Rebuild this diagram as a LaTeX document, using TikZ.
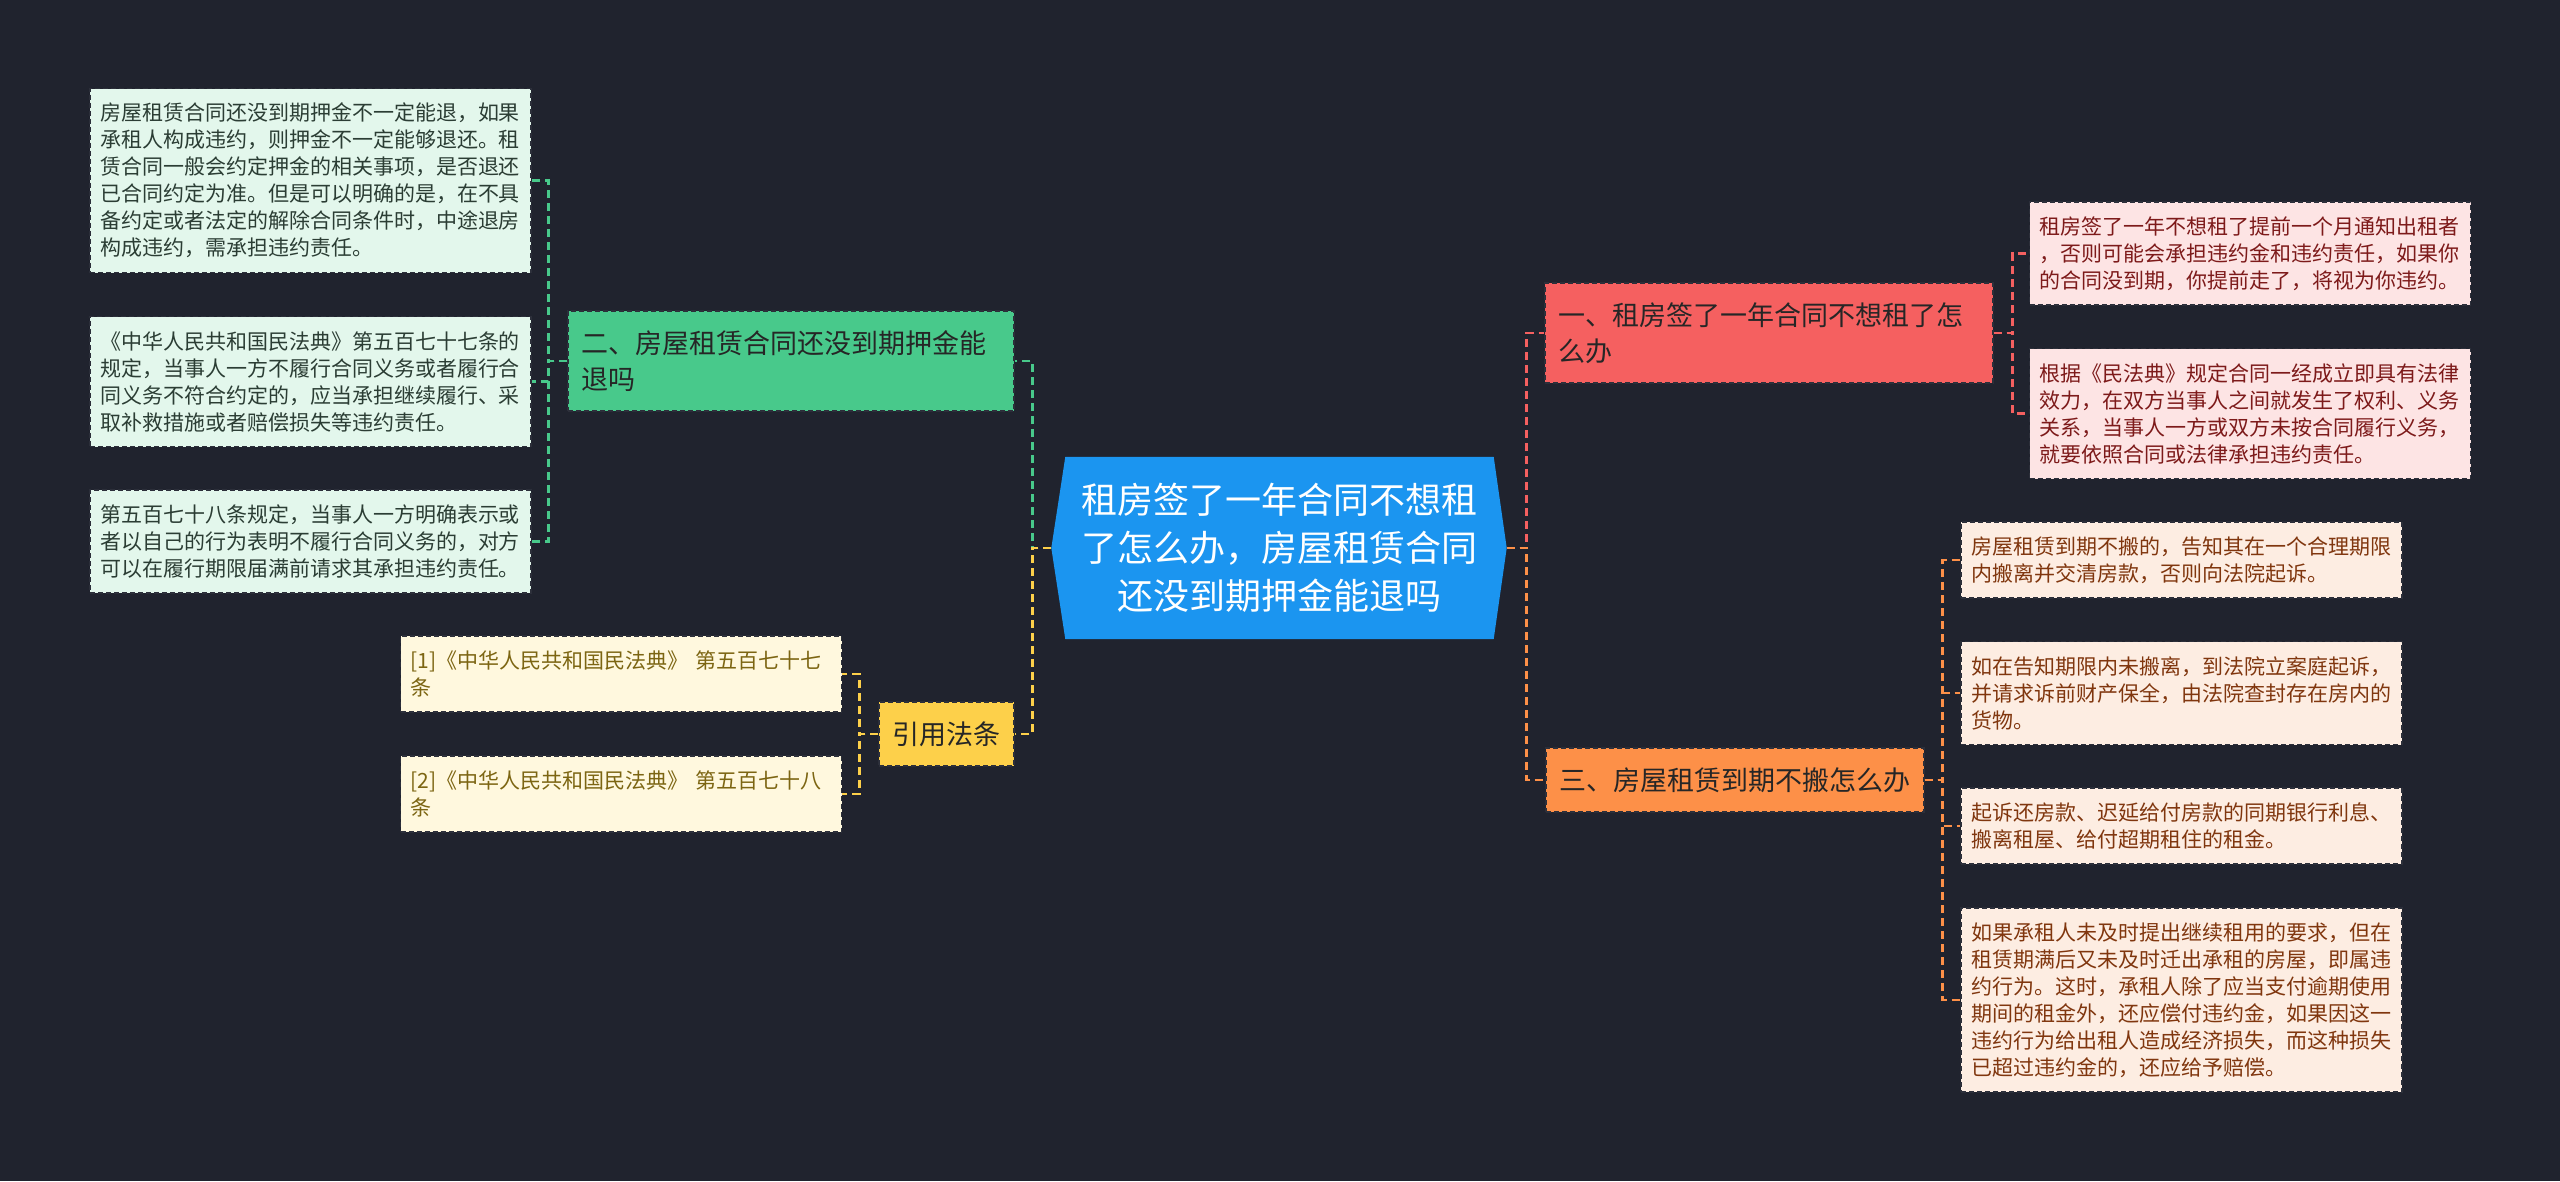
\documentclass[tikz,border=0pt]{standalone}
\usepackage{fontspec}
\setmainfont{Noto Sans CJK SC}
\usepackage{xcolor}
\usepackage{tikz}
\usetikzlibrary{backgrounds}
\definecolor{PageBg}{HTML}{20232E}
\definecolor{EdgeDark}{HTML}{2C2F3A}
\definecolor{RootBlue}{HTML}{1B95F0}
\definecolor{TopicInk}{HTML}{262626}
\definecolor{TopicGreen}{HTML}{48C98B}
\definecolor{SoftGreen}{HTML}{E3F7EC}
\definecolor{InkGreen}{HTML}{2B3D34}
\definecolor{TopicYellow}{HTML}{FDD04A}
\definecolor{SoftYellow}{HTML}{FFF8DE}
\definecolor{InkYellow}{HTML}{7C6512}
\definecolor{TopicRed}{HTML}{F56060}
\definecolor{SoftRed}{HTML}{FDE4E4}
\definecolor{InkRed}{HTML}{7D1A1A}
\definecolor{TopicOrange}{HTML}{FD9048}
\definecolor{SoftOrange}{HTML}{FDEDE2}
\definecolor{InkOrange}{HTML}{80360E}

\begin{document}
\begin{tikzpicture}[x=1pt,y=-1pt,
  leaf/.style={draw=EdgeDark,line width=1.2pt,dash pattern=on 5pt off 3pt,text width=421pt,inner xsep=10pt,inner ysep=0pt,align=left,font=\fontsize{21}{27}\selectfont},
  leafg/.style={leaf,fill=SoftGreen,text=InkGreen},
  leafy/.style={leaf,fill=SoftYellow,text=InkYellow},
  leafr/.style={leaf,fill=SoftRed,text=InkRed},
  leafo/.style={leaf,fill=SoftOrange,text=InkOrange},
  rows2/.style={minimum height=76pt},
  rows3/.style={minimum height=103pt},
  rows4/.style={minimum height=130pt},
  rows6/.style={minimum height=184pt},
  topic/.style={draw=EdgeDark,line width=1.2pt,dash pattern=on 5pt off 3pt,inner xsep=13.5pt,inner ysep=0pt,align=left,text=TopicInk,font=\fontsize{27}{36}\selectfont},
  link/.style={line width=2.6pt,dash pattern=on 8pt off 5pt}]
% root
\node[text=white,align=center,text width=428pt,inner xsep=0pt,minimum height=182pt,font=\fontsize{36}{48}\selectfont] (root) at (1279.5,548) {租房签了一年合同不想租\\了怎么办，房屋租赁合同\\还没到期押金能退吗};
% left branches
\node[topic,fill=TopicGreen,text width=419pt,minimum height=100pt] (br2) at (791,361) {二、房屋租赁合同还没到期押金能\\退吗};
\node[leafg,rows6] (a1) at (310.5,180.5) {房屋租赁合同还没到期押金不一定能退，如果\\承租人构成违约，则押金不一定能够退还。租\\赁合同一般会约定押金的相关事项，是否退还\\已合同约定为准。但是可以明确的是，在不具\\备约定或者法定的解除合同条件时，中途退房\\构成违约，需承担违约责任。};
\node[leafg,rows4] (a2) at (310.5,381.5) {《中华人民共和国民法典》第五百七十七条的\\规定，当事人一方不履行合同义务或者履行合\\同义务不符合约定的，应当承担继续履行、采\\取补救措施或者赔偿损失等违约责任。};
\node[leafg,rows3] (a3) at (310.5,541.5) {第五百七十八条规定，当事人一方明确表示或\\者以自己的行为表明不履行合同义务的，对方\\可以在履行期限届满前请求其承担违约责任。};
\node[topic,fill=TopicYellow,minimum height=64pt] (cite) at (946.5,734) {引用法条};
\node[leafy,rows2] (ref1) at (621,674) {[1]《中华人民共和国民法典》 第五百七十七\\条};
\node[leafy,rows2] (ref2) at (621,794) {[2]《中华人民共和国民法典》 第五百七十八\\条};
% right branches
\node[topic,fill=TopicRed,text width=421pt,minimum height=100pt] (br1) at (1769,333) {一、租房签了一年合同不想租了怎\\么办};
\node[leafr,rows3] (b1) at (2250,253.5) {租房签了一年不想租了提前一个月通知出租者\\，否则可能会承担违约金和违约责任，如果你\\的合同没到期，你提前走了，将视为你违约。};
\node[leafr,rows4] (b2) at (2250,413.5) {根据《民法典》规定合同一经成立即具有法律\\效力，在双方当事人之间就发生了权利、义务\\关系，当事人一方或双方未按合同履行义务，\\就要依照合同或法律承担违约责任。};
\node[topic,fill=TopicOrange,minimum height=64pt] (br3) at (1735,780) {三、房屋租赁到期不搬怎么办};
\node[leafo,rows2] (c1) at (2181.5,560) {房屋租赁到期不搬的，告知其在一个合理期限\\内搬离并交清房款，否则向法院起诉。};
\node[leafo,rows3] (c2) at (2181.5,693) {如在告知期限内未搬离，到法院立案庭起诉，\\并请求诉前财产保全，由法院查封存在房内的\\货物。};
\node[leafo,rows2] (c3) at (2181.5,826) {起诉还房款、迟延给付房款的同期银行利息、\\搬离租屋、给付超期租住的租金。};
\node[leafo,rows6] (c4) at (2181.5,1000) {如果承租人未及时提出继续租用的要求，但在\\租赁期满后又未及时迁出承租的房屋，即属违\\约行为。这时，承租人除了应当支付逾期使用\\期间的租金外，还应偿付违约金，如果因这一\\违约行为给出租人造成经济损失，而这种损失\\已超过违约金的，还应给予赔偿。};
\coordinate (rootL) at ([xshift=-14pt]root.west);
\coordinate (rootR) at ([xshift=13pt]root.east);
% connectors
\draw[link,TopicGreen] (rootL) -- ++(-19,0) |- (br2.east);
\draw[link,TopicYellow] (rootL) -- ++(-19,0) |- (cite.east);
\draw[link,TopicGreen] (br2.west) -- ++(-19,0) |- (a1.east);
\draw[link,TopicGreen] (br2.west) -- ++(-19,0) |- (a2.east);
\draw[link,TopicGreen] (br2.west) -- ++(-19,0) |- (a3.east);
\draw[link,TopicYellow] (cite.west) -- ++(-19,0) |- (ref1.east);
\draw[link,TopicYellow] (cite.west) -- ++(-19,0) |- (ref2.east);
\draw[link,TopicRed] (rootR) -- ++(20,0) |- (br1.west);
\draw[link,TopicOrange] (rootR) -- ++(20,0) |- (br3.west);
\draw[link,TopicRed] (br1.east) -- ++(19,0) |- (b1.west);
\draw[link,TopicRed] (br1.east) -- ++(19,0) |- (b2.west);
\draw[link,TopicOrange] (br3.east) -- ++(18,0) |- (c1.west);
\draw[link,TopicOrange] (br3.east) -- ++(18,0) |- (c2.west);
\draw[link,TopicOrange] (br3.east) -- ++(18,0) |- (c3.west);
\draw[link,TopicOrange] (br3.east) -- ++(18,0) |- (c4.west);
\begin{scope}[on background layer]
\fill[PageBg] (0,0) rectangle (2560,1181);
\fill[RootBlue] (root.north west) -- (root.north east) -- (rootR) -- (root.south east) -- (root.south west) -- (rootL) -- cycle;
\end{scope}
\end{tikzpicture}
\end{document}
